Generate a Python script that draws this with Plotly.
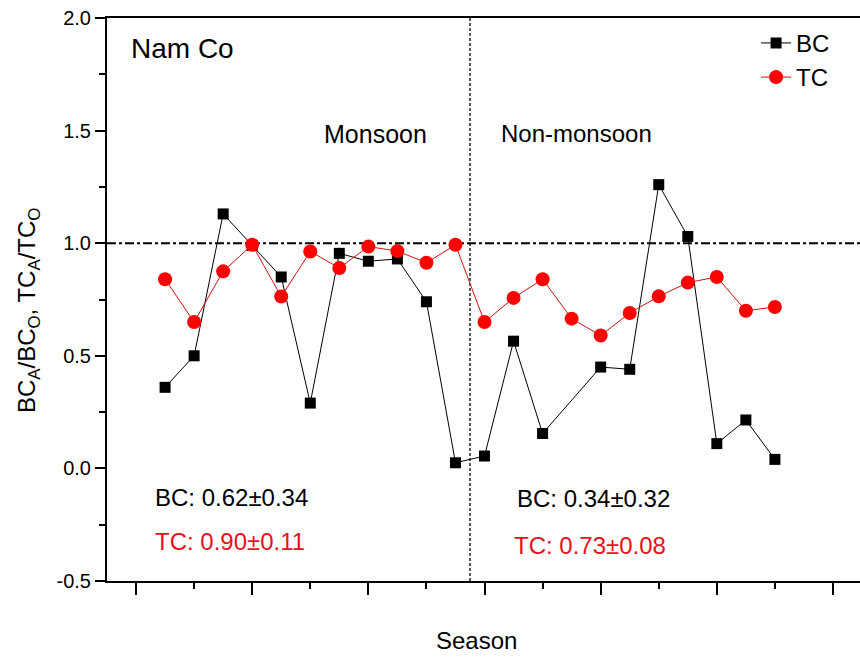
import plotly.graph_objects as go

# ---- data ----
x_index = list(range(1, 23))
bc_values = [0.36, 0.50, 1.13, 0.99, 0.85, 0.29, 0.955, 0.92, 0.93, 0.74, 0.025,
             0.055, 0.565, 0.155, None, 0.45, 0.44, 1.26, 1.03, 0.11, 0.215, 0.04]
tc_values = [0.84, 0.65, 0.875, 0.993, 0.763, 0.963, 0.89, 0.985, 0.965, 0.913, 0.993,
             0.65, 0.757, 0.84, 0.665, 0.59, 0.69, 0.764, 0.825, 0.85, 0.70, 0.717]
x_ticks = [0, 4, 8, 12, 16, 20, 24]
y_ticks = [-0.5, 0.0, 0.5, 1.0, 1.5, 2.0]
y_tick_labels = ["-0.5", "0.0", "0.5", "1.0", "1.5", "2.0"]
season_split = 11.5
reference_ratio = 1.0

FONT = "Liberation Sans, Arial, sans-serif"
RED = "#ff0000"

fig = go.Figure()
fig.add_trace(go.Scatter(
    x=x_index, y=bc_values, name="BC", mode="lines+markers", connectgaps=True,
    line=dict(color="black", width=1),
    marker=dict(symbol="square", size=11, color="black"),
))
fig.add_trace(go.Scatter(
    x=x_index, y=tc_values, name="TC", mode="lines+markers",
    line=dict(color="#d01010", width=1),
    marker=dict(symbol="circle", size=14, color=RED),
))

fig.add_hline(y=reference_ratio, line=dict(color="black", width=2, dash="dashdot"), layer="below")
fig.add_vline(x=season_split, line=dict(color="black", width=1.3, dash="3px,2px"), layer="below")

def txt(x, y, s, size, color="black"):
    fig.add_annotation(x=x, y=y, xref="x", yref="y", text=s, showarrow=False,
                       xanchor="left", yanchor="middle",
                       font=dict(family=FONT, size=size, color=color))

txt(-0.25, 1.863, "Nam Co", 28)
txt(6.4, 1.485, "Monsoon", 25)
txt(12.5, 1.485, "Non-monsoon", 24)
txt(0.6, -0.127, "BC: 0.62±0.34", 24)
txt(0.6, -0.326, "TC: 0.90±0.11", 24, "#e8101a")
txt(13.05, -0.135, "BC: 0.34±0.32", 24)
txt(12.95, -0.344, "TC: 0.73±0.08", 24, "#e8101a")

fig.add_annotation(x=11.71, y=-0.105, xref="x", yref="paper", text="Season",
                   showarrow=False, xanchor="center", yanchor="middle",
                   font=dict(family=FONT, size=24, color="black"))
fig.add_annotation(x=-0.1045, y=0.48, xref="paper", yref="paper",
                   text="BC<sub>A</sub>/BC<sub>O</sub>, TC<sub>A</sub>/TC<sub>O</sub>",
                   showarrow=False, textangle=-90, xanchor="center", yanchor="middle",
                   font=dict(family=FONT, size=24, color="black"))

fig.update_layout(
    width=860, height=659,
    margin=dict(l=107, r=0, t=18, b=78),
    plot_bgcolor="white", paper_bgcolor="white",
    font=dict(family=FONT, size=20, color="black"),
    showlegend=True,
    legend=dict(x=0.862, y=0.995, xanchor="left", yanchor="top",
                font=dict(family=FONT, size=24), bgcolor="rgba(0,0,0,0)",
                tracegroupgap=0),
    xaxis=dict(range=[-1.0, 24.93], tickvals=x_ticks, showticklabels=False,
               ticks="outside", ticklen=12, tickwidth=2, tickcolor="black",
               minor=dict(dtick=2, tick0=0, ticks="outside", ticklen=6, tickwidth=2, tickcolor="black"),
               showline=True, linecolor="black", linewidth=2, mirror=True,
               showgrid=False, zeroline=False),
    yaxis=dict(range=[-0.5, 2.0], tickvals=y_ticks, ticktext=y_tick_labels,
               ticks="outside", ticklen=10, tickwidth=2, tickcolor="black",
               minor=dict(dtick=0.25, tick0=0, ticks="outside", ticklen=6, tickwidth=2, tickcolor="black"),
               showline=True, linecolor="black", linewidth=2, mirror=False,
               showgrid=False, zeroline=False, tickfont=dict(size=20)),
)

fig.write_html("out.html")
